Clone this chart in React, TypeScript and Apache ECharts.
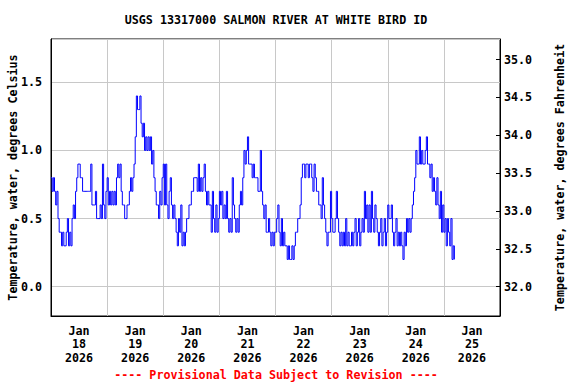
import React, { useEffect, useRef } from "react";
import * as echarts from "echarts";

const TITLE = "USGS 13317000 SALMON RIVER AT WHITE BIRD ID";
const FOOTER = "---- Provisional Data Subject to Revision ----";
const LEFT_NAME = "Temperature, water, degrees Celsius";
const RIGHT_NAME = "Temperature, water, degrees Fahrenheit";
const dayLabels = [
  "Jan\n18\n2026",
  "Jan\n19\n2026",
  "Jan\n20\n2026",
  "Jan\n21\n2026",
  "Jan\n22\n2026",
  "Jan\n23\n2026",
  "Jan\n24\n2026",
  "Jan\n25\n2026",
];

// Half-hourly water temperature (deg C), starting at 00:00 of each day
const jan18 = [
  0.8, 0.7, 0.8, 0.7, 0.6, 0.7, 0.5, 0.4, 0.4, 0.3, 0.4, 0.3,
  0.3, 0.4, 0.5, 0.3, 0.4, 0.3, 0.5, 0.6, 0.5, 0.7, 0.8, 0.9,
  0.9, 0.8, 0.8, 0.7, 0.7, 0.7, 0.7, 0.7, 0.7, 0.7, 0.9, 0.6,
  0.6, 0.6, 0.7, 0.5, 0.5, 0.5, 0.6, 0.5, 0.9, 0.6, 0.5, 0.7,
];
const jan19 = [
  0.8, 0.6, 0.7, 0.6, 0.7, 0.6, 0.7, 0.6, 0.8, 0.9, 0.8, 0.9,
  0.7, 0.6, 0.6, 0.5, 0.5, 0.6, 0.6, 0.7, 0.8, 0.7, 0.8, 0.9,
  1.1, 1.4, 1.3, 1.3, 1.4, 1.2, 1.1, 1.2, 1.0, 1.1, 1.0, 1.1,
  1.0, 1.1, 0.9, 1.0, 0.8, 0.7, 0.6, 0.6, 0.5, 0.7, 0.6, 0.8,
];
const jan20 = [
  0.9, 0.6, 0.9, 0.6, 0.5, 0.7, 0.8, 0.6, 0.5, 0.6, 0.5, 0.4,
  0.3, 0.5, 0.4, 0.6, 0.3, 0.4, 0.3, 0.4, 0.5, 0.5, 0.6, 0.6,
  0.7, 0.7, 0.8, 0.8, 0.8, 0.7, 0.9, 0.7, 0.8, 0.7, 0.8, 0.9,
  0.7, 0.6, 0.7, 0.6, 0.6, 0.4, 0.7, 0.5, 0.4, 0.6, 0.4, 0.5,
];
const jan21 = [
  0.7, 0.6, 0.7, 0.5, 0.6, 0.5, 0.7, 0.5, 0.4, 0.5, 0.4, 0.8,
  0.6, 0.5, 0.4, 0.5, 0.4, 0.6, 0.7, 0.6, 0.8, 1.0, 0.9, 1.0,
  1.1, 0.9, 0.9, 0.9, 0.8, 0.9, 0.8, 0.8, 0.8, 0.7, 0.7, 1.0,
  0.7, 0.6, 0.5, 0.6, 0.4, 0.4, 0.5, 0.4, 0.3, 0.4, 0.3, 0.4,
];
const jan22 = [
  0.4, 0.5, 0.6, 0.4, 0.3, 0.5, 0.3, 0.4, 0.3, 0.3, 0.2, 0.3,
  0.2, 0.2, 0.3, 0.2, 0.3, 0.4, 0.4, 0.5, 0.5, 0.6, 0.8, 0.9,
  0.9, 0.8, 0.9, 0.9, 0.8, 0.9, 0.9, 0.8, 0.7, 0.9, 0.8, 0.7,
  0.7, 0.6, 0.6, 0.5, 0.8, 0.6, 0.5, 0.4, 0.3, 0.4, 0.4, 0.7,
];
const jan23 = [
  0.5, 0.4, 0.4, 0.5, 0.7, 0.5, 0.4, 0.3, 0.4, 0.3, 0.4, 0.3,
  0.5, 0.3, 0.4, 0.3, 0.3, 0.4, 0.3, 0.4, 0.5, 0.3, 0.4, 0.5,
  0.3, 0.4, 0.5, 0.4, 0.7, 0.5, 0.6, 0.4, 0.6, 0.4, 0.7, 0.5,
  0.4, 0.6, 0.5, 0.4, 0.3, 0.4, 0.5, 0.3, 0.4, 0.5, 0.3, 0.4,
];
const jan24 = [
  0.6, 0.5, 0.5, 0.6, 0.4, 0.3, 0.4, 0.5, 0.3, 0.4, 0.3, 0.4,
  0.3, 0.2, 0.4, 0.3, 0.5, 0.4, 0.5, 0.4, 0.5, 0.6, 0.7, 0.8,
  1.0, 0.9, 0.9, 1.1, 0.9, 1.0, 0.9, 0.9, 1.0, 1.1, 0.9, 0.9,
  0.8, 0.9, 0.7, 0.8, 0.7, 0.6, 0.8, 0.6, 0.5, 0.7, 0.4, 0.6,
];
const jan25 = [0.4, 0.5, 0.3, 0.5, 0.4, 0.3, 0.5, 0.2, 0.3, 0.2];

const FONT = "'DejaVu Sans Mono', 'Liberation Mono', monospace";
const C_MIN = -0.215;
const C_MAX = 1.818;
const cToF = (c: number) => 32 + c * 1.8;

export default function App() {
  const ref = useRef<HTMLDivElement>(null);
  useEffect(() => {
    if (!ref.current) return;
    const chart = echarts.init(ref.current, null, { renderer: "svg" });
    const values = [...jan18, ...jan19, ...jan20, ...jan21, ...jan22, ...jan23, ...jan24, ...jan25];
    const data = values.map((v, i) => [i * 0.5, v]);
    const txt = { fontFamily: FONT, fontWeight: "bold" as const, fontSize: 11.7, color: "#000" };
    const halfStep = (v: number) => Math.abs(v * 2 - Math.round(v * 2)) < 1e-6;
    chart.setOption({
      animation: false,
      backgroundColor: "#fff",
      grid: {
        left: 51,
        right: 76,
        top: 39,
        bottom: 68,
        containLabel: false,
        outerBoundsMode: "none",
        show: true,
        borderColor: "#000",
        borderWidth: 1,
        backgroundColor: "transparent",
      },
      xAxis: [
        {
          type: "value",
          min: 0,
          max: 192,
          interval: 24,
          axisLine: { show: true, onZero: false, lineStyle: { color: "#000", width: 1 } },
          axisTick: { show: false },
          axisLabel: { show: false },
          splitLine: { show: true, lineStyle: { color: "#c8c8c8", width: 1 } },
        },
        {
          type: "category",
          position: "bottom",
          data: dayLabels,
          boundaryGap: true,
          axisLine: { show: false, onZero: false },
          axisTick: { show: false },
          splitLine: { show: false },
          axisLabel: { ...txt, margin: 8, lineHeight: 13.5, interval: 0 },
        },
      ],
      yAxis: [
        {
          type: "value",
          position: "left",
          min: C_MIN,
          max: C_MAX,
          splitNumber: 4,
          name: LEFT_NAME,
          nameLocation: "middle",
          nameRotate: 90,
          nameGap: 32,
          nameMoveOverlap: false,
          nameTextStyle: { ...txt },
          axisLine: { show: true, onZero: false, lineStyle: { color: "#000", width: 1 } },
          axisTick: { show: false },
          axisLabel: {
            ...txt,
            margin: 9,
            showMinLabel: false,
            showMaxLabel: false,
            formatter: (v: number) => (halfStep(v) ? v.toFixed(1) : ""),
          },
          splitLine: { show: true, lineStyle: { color: "#c8c8c8", width: 1 } },
        },
        {
          type: "value",
          position: "right",
          min: cToF(C_MIN),
          max: cToF(C_MAX),
          splitNumber: 7,
          name: RIGHT_NAME,
          nameLocation: "middle",
          nameRotate: 90,
          nameGap: 54,
          nameMoveOverlap: false,
          nameTextStyle: { ...txt },
          axisLine: { show: true, onZero: false, lineStyle: { color: "#000", width: 1 } },
          axisTick: { show: true, inside: true, length: 4, lineStyle: { color: "#000" } },
          axisLabel: {
            ...txt,
            margin: 4,
            showMinLabel: false,
            showMaxLabel: false,
            formatter: (v: number) => (halfStep(v) ? v.toFixed(1) : ""),
          },
          splitLine: { show: false },
        },
      ],
      graphic: [
        {
          type: "text",
          x: 276,
          y: 20,
          style: { text: TITLE, font: `bold 11.7px ${FONT}`, fill: "#000", textAlign: "center", textVerticalAlign: "middle" },
        },
        {
          type: "text",
          x: 276,
          y: 375,
          style: { text: FOOTER, font: `bold 11.7px ${FONT}`, fill: "#ff0000", textAlign: "center", textVerticalAlign: "middle" },
        },
      ],
      series: [
        {
          type: "line",
          xAxisIndex: 0,
          yAxisIndex: 0,
          data,
          step: "end",
          showSymbol: false,
          symbol: "none",
          lineStyle: { color: "#0000ff", width: 1 },
          silent: true,
        },
      ],
    });
    return () => chart.dispose();
  }, []);
  return <div ref={ref} style={{ position: "fixed", left: 0, top: 0, width: 576, height: 384 }} />;
}
